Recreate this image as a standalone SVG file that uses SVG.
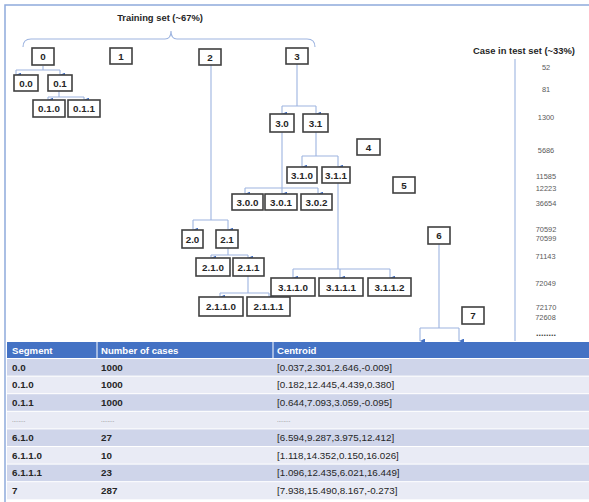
<svg xmlns="http://www.w3.org/2000/svg" width="589" height="502" viewBox="0 0 589 502">
<defs>
<marker id="ah" viewBox="0 0 6 6" refX="3" refY="6" markerWidth="5" markerHeight="5" orient="auto-start-reverse" markerUnits="userSpaceOnUse">
<path d="M0,0 L6,0 L3,6 Z" fill="#4472C4"/>
</marker>
<style>
.box{fill:#fff;stroke:#404040;stroke-width:1.6}
.lbl{font-family:"Liberation Sans",Arial,sans-serif;font-weight:bold;font-size:9.8px;fill:#262626;text-anchor:middle}
.ttl{font-family:"Liberation Sans",Arial,sans-serif;font-weight:bold;font-size:9.4px;fill:#262626;text-anchor:middle}
.num{font-family:"Liberation Sans",Arial,sans-serif;font-size:7.4px;fill:#595959;text-anchor:middle}
.ln{fill:none;stroke:#9DB4E0;stroke-width:1.1}
.ar{fill:none;stroke:#9DB4E0;stroke-width:1.1;marker-end:url(#ah)}
.th{font-family:"Liberation Sans",Arial,sans-serif;font-weight:bold;font-size:9.6px;fill:#fff}
.td{font-family:"Liberation Sans",Arial,sans-serif;font-weight:bold;font-size:9.8px;fill:#262626}
.tc{font-family:"Liberation Sans",Arial,sans-serif;font-size:9.8px;fill:#262626}
.dk{fill:#CFD5EA}
.lt{fill:#E9EBF5}
</style>
</defs>
<rect width="589" height="502" fill="#fff"/>
<!-- frame -->
<path d="M5,502 V5 H589" fill="none" stroke="#8FAADC" stroke-width="1.5"/>
<!-- titles -->
<text class="ttl" x="160" y="21">Training set (~67%)</text>
<path class="ln" d="M23,47 Q23,39 31,39 L165,39 Q171,39 171,31 Q171,39 177,39 L307,39 Q315,39 315,47"/>
<text class="ttl" x="524" y="54">Case in test set (~33%)</text>
<g id="connectors">
<path class="ln" d="M43,66 V70 M16,70 H60"/>
<path class="ar" d="M16,70 V75"/><path class="ar" d="M60,70 V75"/>
<path class="ln" d="M59,91 V97 M48,97 H84"/>
<path class="ar" d="M48,97 V100"/><path class="ar" d="M84,97 V100"/>
<path class="ln" d="M211,65 V220 M193,220 H228"/>
<path class="ar" d="M193,220 V230"/><path class="ar" d="M228,220 V230"/>
<path class="ln" d="M297,64 V106 M282,106 H316"/>
<path class="ar" d="M282,106 V114"/><path class="ar" d="M316,106 V114"/>
<path class="ln" d="M282,132 V188 M245,188 H318"/>
<path class="ar" d="M245,188 V194"/><path class="ar" d="M282,188 V194"/><path class="ar" d="M318,188 V194"/>
<path class="ln" d="M316,132 V156 M302,156 H338"/>
<path class="ar" d="M302,156 V167"/><path class="ar" d="M338,156 V167"/>
<path class="ln" d="M338,183 V269 M293,269 H390"/>
<path class="ar" d="M293,269 V278"/><path class="ar" d="M340,269 V278"/><path class="ar" d="M390,269 V278"/>
<path class="ln" d="M228,248 V255 M211,255 H248"/>
<path class="ar" d="M211,255 V258"/><path class="ar" d="M248,255 V258"/>
<path class="ln" d="M248,276 V293 M220,293 H269"/>
<path class="ar" d="M220,293 V297"/><path class="ar" d="M269,293 V297"/>
<path class="ln" d="M439,244 V328 M420,328 H459"/>
<path class="ar" d="M420,328 V341"/><path class="ar" d="M459,328 V341"/>
<path class="ln" d="M515,59 V341"/>
</g>
<g id="n0"><rect class="box" x="32" y="48" width="22" height="17"/><text class="lbl" x="43" y="60">0</text></g>
<g id="n1"><rect class="box" x="110" y="48" width="22" height="16"/><text class="lbl" x="121" y="59.5">1</text></g>
<g id="n2"><rect class="box" x="199" y="49" width="22" height="16"/><text class="lbl" x="210" y="60.5">2</text></g>
<g id="n3"><rect class="box" x="286" y="48" width="22" height="16"/><text class="lbl" x="297" y="59.5">3</text></g>
<g id="n0_0"><rect class="box" x="14" y="75" width="24" height="16"/><text class="lbl" x="26" y="86.5">0.0</text></g>
<g id="n0_1"><rect class="box" x="48" y="75" width="24" height="16"/><text class="lbl" x="60" y="86.5">0.1</text></g>
<g id="n0_1_0"><rect class="box" x="33" y="100" width="32" height="17"/><text class="lbl" x="49" y="112">0.1.0</text></g>
<g id="n0_1_1"><rect class="box" x="68" y="100" width="32" height="17"/><text class="lbl" x="84" y="112">0.1.1</text></g>
<g id="n3_0"><rect class="box" x="270" y="114" width="24" height="18"/><text class="lbl" x="282" y="126.5">3.0</text></g>
<g id="n3_1"><rect class="box" x="303" y="114" width="25" height="18"/><text class="lbl" x="315.5" y="126.5">3.1</text></g>
<g id="n4"><rect class="box" x="357" y="139" width="23" height="16"/><text class="lbl" x="368.5" y="150.5">4</text></g>
<g id="n5"><rect class="box" x="393" y="177" width="22" height="16"/><text class="lbl" x="404" y="188.5">5</text></g>
<g id="n3_1_0"><rect class="box" x="287" y="167" width="30" height="16"/><text class="lbl" x="302" y="178.5">3.1.0</text></g>
<g id="n3_1_1"><rect class="box" x="322" y="167" width="28" height="16"/><text class="lbl" x="336" y="178.5">3.1.1</text></g>
<g id="n3_0_0"><rect class="box" x="232" y="194" width="31" height="16"/><text class="lbl" x="247.5" y="205.5">3.0.0</text></g>
<g id="n3_0_1"><rect class="box" x="265" y="194" width="32" height="16"/><text class="lbl" x="281" y="205.5">3.0.1</text></g>
<g id="n3_0_2"><rect class="box" x="301" y="194" width="31" height="16"/><text class="lbl" x="316.5" y="205.5">3.0.2</text></g>
<g id="n2_0"><rect class="box" x="182" y="230" width="21" height="18"/><text class="lbl" x="192.5" y="242.5">2.0</text></g>
<g id="n2_1"><rect class="box" x="216" y="230" width="22" height="18"/><text class="lbl" x="227" y="242.5">2.1</text></g>
<g id="n2_1_0"><rect class="box" x="196" y="258" width="34" height="18"/><text class="lbl" x="213" y="270.5">2.1.0</text></g>
<g id="n2_1_1"><rect class="box" x="233" y="258" width="31" height="18"/><text class="lbl" x="248.5" y="270.5">2.1.1</text></g>
<g id="n2_1_1_0"><rect class="box" x="199" y="297" width="44" height="19"/><text class="lbl" x="221" y="310">2.1.1.0</text></g>
<g id="n2_1_1_1"><rect class="box" x="247" y="297" width="43" height="19"/><text class="lbl" x="268.5" y="310">2.1.1.1</text></g>
<g id="n3_1_1_0"><rect class="box" x="271" y="278" width="44" height="18"/><text class="lbl" x="293" y="290.5">3.1.1.0</text></g>
<g id="n3_1_1_1"><rect class="box" x="319" y="278" width="44" height="18"/><text class="lbl" x="341" y="290.5">3.1.1.1</text></g>
<g id="n3_1_1_2"><rect class="box" x="368" y="278" width="43" height="18"/><text class="lbl" x="389.5" y="290.5">3.1.1.2</text></g>
<g id="n6"><rect class="box" x="428" y="227" width="22" height="17"/><text class="lbl" x="439" y="239">6</text></g>
<g id="n7"><rect class="box" x="462" y="307" width="22" height="17"/><text class="lbl" x="473" y="319">7</text></g>
<g id="testcases">
<text class="num" x="546" y="69.5">52</text>
<text class="num" x="546" y="91.5">81</text>
<text class="num" x="546" y="119.5">1300</text>
<text class="num" x="546" y="152.5">5686</text>
<text class="num" x="546" y="178.5">11585</text>
<text class="num" x="546" y="190.5">12223</text>
<text class="num" x="546" y="205.5">36654</text>
<text class="num" x="546" y="231.5">70592</text>
<text class="num" x="546" y="240.5">70599</text>
<text class="num" x="545.5" y="258.5">71143</text>
<text class="num" x="545.5" y="285.5">72049</text>
<text class="num" x="546" y="309.5">72170</text>
<text class="num" x="545.5" y="319.5">72608</text>
<text class="num" x="546" y="336" style="font-weight:bold;font-size:9px;fill:#404040">........</text>
</g>
<g id="table">
<rect x="7" y="342" width="582" height="16.5" fill="#4472C4"/>
<rect class="dk" x="7" y="358.5" width="582" height="17.6"/>
<rect class="lt" x="7" y="376.1" width="582" height="17.6"/>
<rect class="dk" x="7" y="393.7" width="582" height="17.6"/>
<rect class="lt" x="7" y="411.3" width="582" height="17.6"/>
<rect class="dk" x="7" y="428.9" width="582" height="17.6"/>
<rect class="lt" x="7" y="446.5" width="582" height="17.6"/>
<rect class="dk" x="7" y="464.1" width="582" height="17.6"/>
<rect class="lt" x="7" y="481.7" width="582" height="17.6"/>
<path d="M7,358.5 H589 M7,376.1 H589 M7,393.7 H589 M7,411.3 H589 M7,428.9 H589 M7,446.5 H589 M7,464.1 H589 M7,481.7 H589 M97,342 V358.5 M273,342 V358.5" stroke="#fff" stroke-width="1"/>
<text class="th" x="12" y="353.5">Segment</text>
<text class="th" x="101" y="353.5">Number of cases</text>
<text class="th" x="277" y="353.5">Centroid</text>
<text class="td" x="12" y="370.8">0.0</text><text class="td" x="101" y="370.8">1000</text><text class="tc" x="277" y="370.8">[0.037,2.301,2.646,-0.009]</text>
<text class="td" x="12" y="388.4">0.1.0</text><text class="td" x="101" y="388.4">1000</text><text class="tc" x="277" y="388.4">[0.182,12.445,4.439,0.380]</text>
<text class="td" x="12" y="406">0.1.1</text><text class="td" x="101" y="406">1000</text><text class="tc" x="277" y="406">[0.644,7.093,3.059,-0.095]</text>
<text class="tc" x="12" y="422" style="font-size:6px;fill:#595959">........</text><text class="tc" x="101" y="422" style="font-size:6px;fill:#595959">........</text><text class="tc" x="277" y="422" style="font-size:6px;fill:#595959">........</text>
<text class="td" x="12" y="441.2">6.1.0</text><text class="td" x="101" y="441.2">27</text><text class="tc" x="277" y="441.2">[6.594,9.287,3.975,12.412]</text>
<text class="td" x="12" y="458.8">6.1.1.0</text><text class="td" x="101" y="458.8">10</text><text class="tc" x="277" y="458.8">[1.118,14.352,0.150,16.026]</text>
<text class="td" x="12" y="476.4">6.1.1.1</text><text class="td" x="101" y="476.4">23</text><text class="tc" x="277" y="476.4">[1.096,12.435,6.021,16.449]</text>
<text class="td" x="12" y="494">7</text><text class="td" x="101" y="494">287</text><text class="tc" x="277" y="494">[7.938,15.490,8.167,-0.273]</text>
</g>
</svg>
